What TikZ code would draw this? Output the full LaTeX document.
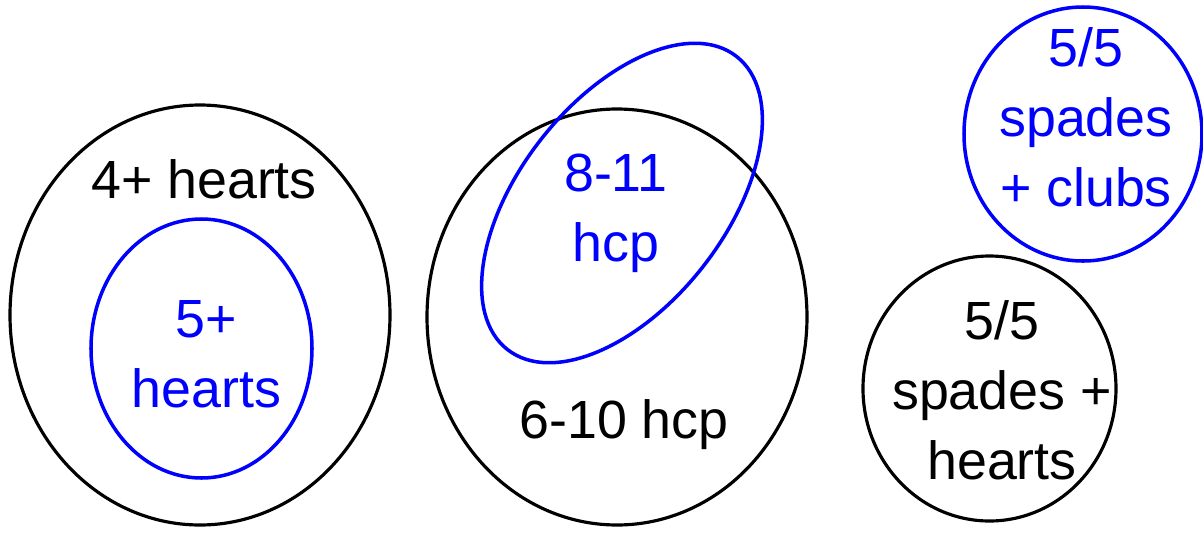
\documentclass[tikz,border=0pt]{standalone}
\usepackage{fontspec}
\setmainfont{Liberation Sans}
\usepackage{tikz}
\definecolor{setBlue}{HTML}{0000FF}

\begin{document}
\begin{tikzpicture}[
  outerSet/.style={draw=black,line width=0.9pt},
  innerSet/.style={draw=setBlue,line width=1pt},
  setLabel/.style={font=\fontsize{15.3}{19.9}\selectfont,align=center,inner sep=0pt}]
\useasboundingbox (0,0) rectangle (12.03,5.33);
% hearts
\draw[outerSet] (2.00,2.18) ellipse (1.90 and 2.10);
\draw[innerSet] (2.015,1.845) ellipse (1.105 and 1.295);
\node[setLabel,anchor=base] (fourHearts) at (2.04,3.35) {4+ hearts};
\node[setLabel,text=setBlue] (fiveHearts) at (2.065,1.79) {5+\\hearts};
% hcp
\draw[outerSet] (6.17,2.16) ellipse (1.90 and 2.08);
\draw[innerSet,rotate around={52:(6.22,3.30)}] (6.22,3.30) ellipse (1.86 and 1.03);
\node[setLabel,anchor=base] (sixTen) at (6.24,0.95) {6-10 hcp};
\node[setLabel,text=setBlue] (eightEleven) at (6.16,3.20) {8-11\\hcp};
% two-suiters
\draw[innerSet] (10.83,3.99) ellipse (1.19 and 1.27);
\draw[outerSet] (9.895,1.445) ellipse (1.265 and 1.325);
\node[setLabel,text=setBlue] (spadesClubs) at (10.86,4.16) {5/5\\spades\\+ clubs};
\node[setLabel] (spadesHearts) at (10.02,1.43) {5/5\\spades +\\hearts};
\end{tikzpicture}
\end{document}
